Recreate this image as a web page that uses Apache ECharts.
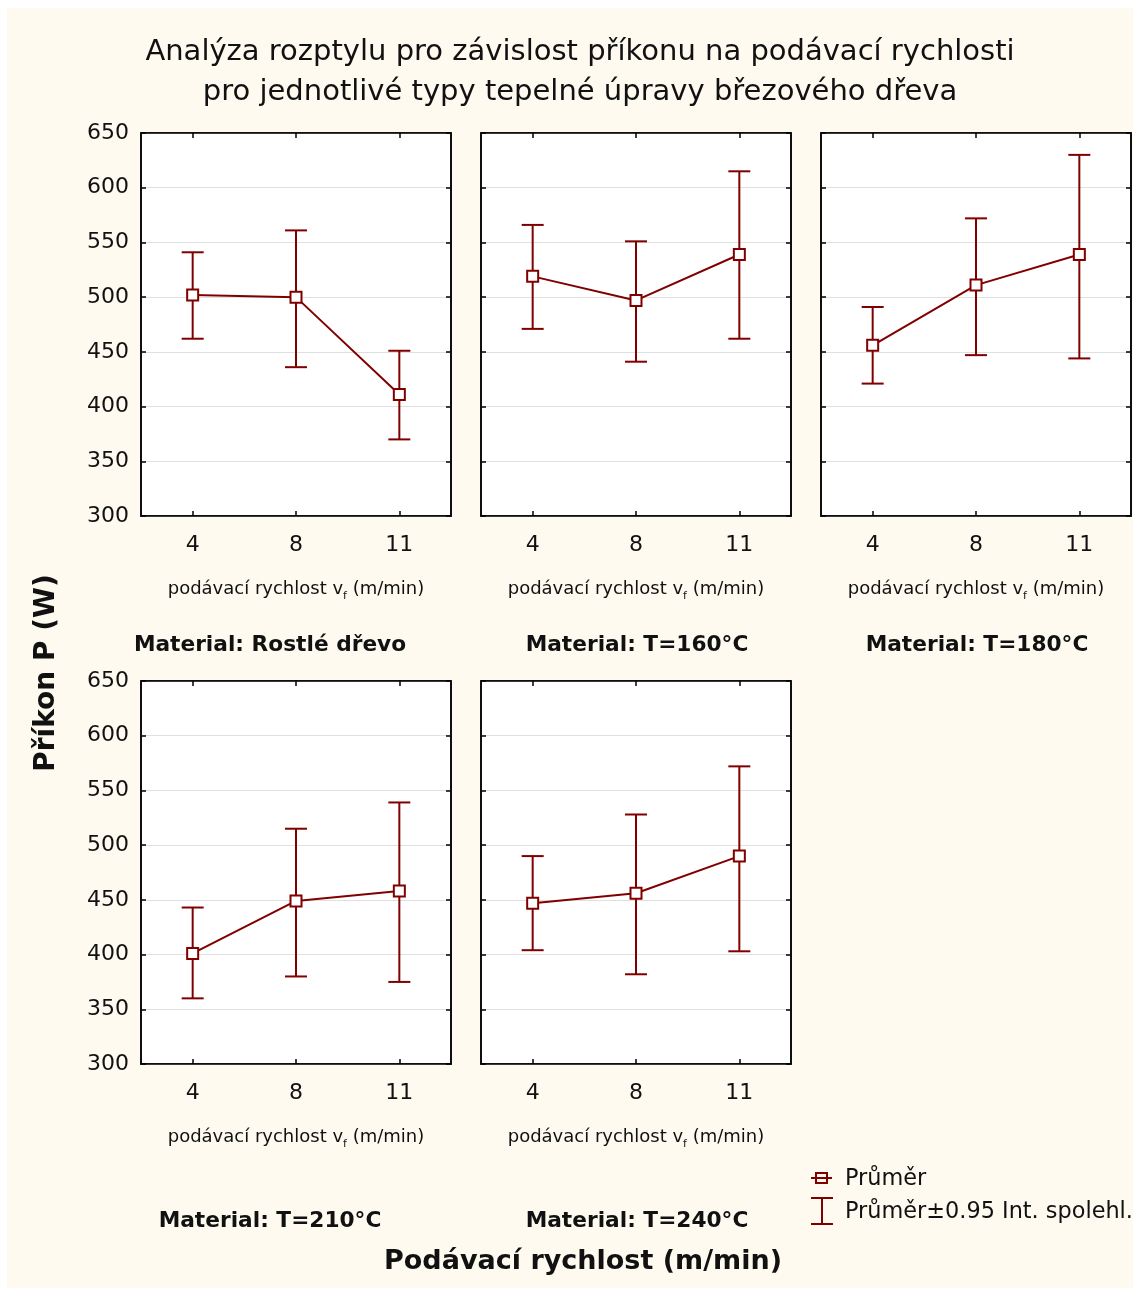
<!DOCTYPE html>
<html>
<head>
<meta charset="utf-8">
<script src="https://cdn.jsdelivr.net/npm/echarts@6/dist/echarts.min.js"></script>
<style>
html,body{margin:0;padding:0;background:#ffffff;}
#chart{width:1133px;height:1294px;}
</style>
</head>
<body>
<div id="chart"></div>
<script>
// ---- data ----
var categories = ['4', '8', '11'];
var yTicks = [300, 350, 400, 450, 500, 550, 600, 650];
var panelNames = ['Material: Rostlé dřevo', 'Material: T=160°C', 'Material: T=180°C', 'Material: T=210°C', 'Material: T=240°C'];

var meanRostle = [502, 500, 411];
var lowRostle  = [462, 436, 370];
var highRostle = [541, 561, 451];

var mean160 = [519, 497, 539];
var low160  = [471, 441, 462];
var high160 = [566, 551, 615];

var mean180 = [456, 511, 539];
var low180  = [421, 447, 444];
var high180 = [491, 572, 630];

var mean210 = [401, 449, 458];
var low210  = [360, 380, 375];
var high210 = [443, 515, 539];

var mean240 = [447, 456, 490];
var low240  = [404, 382, 403];
var high240 = [490, 528, 572];

var titleLines = ['Analýza rozptylu pro závislost příkonu na podávací rychlosti',
                  'pro jednotlivé typy tepelné úpravy březového dřeva'];
var yTitle = 'Příkon P (W)';
var xTitle = 'Podávací rychlost (m/min)';
var legendMean = 'Průměr';
var legendCI = 'Průměr±0.95 Int. spolehl.';

// ---- build ----
var means = [meanRostle, mean160, mean180, mean210, mean240];
var lows = [lowRostle, low160, low180, low210, low240];
var highs = [highRostle, high160, high180, high210, high240];

var FONT = '"DejaVu Sans", Verdana, sans-serif';
var RED = '#800000';
var panelLeft = [141, 481, 821, 141, 481];
var panelTop = [133, 133, 133, 681, 681];
var PW = 310, PH = 383;
var titleCenter = [270, 637, 977, 270, 637];

var grids = [], xAxes = [], yAxes = [], series = [], titles = [];

titles.push({
  text: titleLines.join('\n'), padding: 0,
  left: 580, top: 32, textAlign: 'center',
  textStyle: {fontFamily: FONT, fontSize: 29, fontWeight: 'normal', color: '#111', lineHeight: 40}
});

for (var i = 0; i < 5; i++) {
  var showY = (i === 0 || i === 3);
  grids.push({left: panelLeft[i], top: panelTop[i], width: PW, height: PH,
    show: true, backgroundColor: '#ffffff', borderColor: '#000', borderWidth: 1.5});
  xAxes.push({
    gridIndex: i, type: 'category', data: categories, position: 'bottom', boundaryGap: true,
    axisLine: {show: true, lineStyle: {color: '#000', width: 1.5}},
    axisTick: {show: true, inside: true, length: 5, alignWithLabel: true, lineStyle: {color: '#000', width: 1.5}},
    axisLabel: {show: true, margin: 18, fontFamily: FONT, fontSize: 22, color: '#111'},
    name: '{a|podávací rychlost v}{s|f}{a| (m/min)}',
    nameLocation: 'middle', nameGap: 64,
    nameTextStyle: {rich: {a: {fontFamily: FONT, fontSize: 18, color: '#111', lineHeight: 22, verticalAlign: 'top'},
                           s: {fontFamily: FONT, fontSize: 11, color: '#111', lineHeight: 6, verticalAlign: 'bottom'}}},
    splitLine: {show: false}
  });
  xAxes.push({
    gridIndex: i, type: 'category', data: categories, position: 'top', boundaryGap: true,
    axisLine: {show: true, lineStyle: {color: '#000', width: 1.5}},
    axisTick: {show: true, inside: true, length: 5, alignWithLabel: true, lineStyle: {color: '#000', width: 1.5}},
    axisLabel: {show: false}, splitLine: {show: false}
  });
  yAxes.push({
    gridIndex: i, type: 'value', min: yTicks[0], max: yTicks[yTicks.length - 1], interval: 50, position: 'left',
    axisLine: {show: true, lineStyle: {color: '#000', width: 1.5}},
    axisTick: {show: true, inside: true, length: 5, lineStyle: {color: '#000', width: 1.5}},
    axisLabel: {show: showY, margin: 12, fontFamily: FONT, fontSize: 22, color: '#111'},
    splitLine: {show: true, lineStyle: {color: '#e0e0e0', width: 1}}
  });
  yAxes.push({
    gridIndex: i, type: 'value', min: yTicks[0], max: yTicks[yTicks.length - 1], interval: 50, position: 'right',
    axisLine: {show: true, lineStyle: {color: '#000', width: 1.5}},
    axisTick: {show: true, inside: true, length: 5, lineStyle: {color: '#000', width: 1.5}},
    axisLabel: {show: false}, splitLine: {show: false}
  });

  var errData = [];
  for (var k = 0; k < categories.length; k++) errData.push([k, lows[i][k], highs[i][k]]);

  series.push({
    type: 'custom', name: legendCI, xAxisIndex: 2 * i, yAxisIndex: 2 * i, z: 2,
    data: errData,
    renderItem: function (params, api) {
      var lo = api.coord([api.value(0), api.value(1)]);
      var hi = api.coord([api.value(0), api.value(2)]);
      var hw = 11;
      var st = {stroke: RED, lineWidth: 2, fill: null};
      return {type: 'group', children: [
        {type: 'line', shape: {x1: lo[0], y1: lo[1], x2: hi[0], y2: hi[1]}, style: st},
        {type: 'line', shape: {x1: lo[0] - hw, y1: lo[1], x2: lo[0] + hw, y2: lo[1]}, style: st},
        {type: 'line', shape: {x1: hi[0] - hw, y1: hi[1], x2: hi[0] + hw, y2: hi[1]}, style: st}
      ]};
    }
  });
  series.push({
    type: 'line', name: legendMean, xAxisIndex: 2 * i, yAxisIndex: 2 * i, z: 3,
    data: means[i], symbol: 'rect', symbolSize: 11, showAllSymbol: true,
    lineStyle: {color: RED, width: 2},
    itemStyle: {color: '#ffffff', borderColor: RED, borderWidth: 2},
    emphasis: {disabled: true}, animation: false
  });

  titles.push({
    text: panelNames[i], padding: 0, left: titleCenter[i], top: i < 3 ? 634 : 1210, textAlign: 'center',
    textStyle: {fontFamily: FONT, fontSize: 21.7, fontWeight: 'bold', color: '#111'}
  });
}

titles.push({
  text: xTitle, padding: 0, left: 583, top: 1248, textAlign: 'center',
  textStyle: {fontFamily: FONT, fontSize: 27, fontWeight: 'bold', color: '#111'}
});

var graphics = [
  {type: 'rect', z: -100, silent: true, shape: {x: 7, y: 8, width: 1126, height: 1280}, style: {fill: '#fefaf0'}},
  {type: 'text', x: 47, y: 673, rotation: Math.PI / 2, z: 10,
   style: {text: yTitle, fontFamily: FONT, fontSize: 28, fontWeight: 'bold', fill: '#111', align: 'center', verticalAlign: 'middle'}},
  // legend: mean
  {type: 'line', z: 10, shape: {x1: 811, y1: 1178, x2: 832, y2: 1178}, style: {stroke: RED, lineWidth: 2}},
  {type: 'rect', z: 10, shape: {x: 816, y: 1173, width: 11, height: 10}, style: {stroke: RED, lineWidth: 2, fill: null}},
  {type: 'text', z: 10, x: 845, y: 1179, style: {text: legendMean, fontFamily: FONT, fontSize: 22.4, fill: '#111', verticalAlign: 'middle'}},
  // legend: CI
  {type: 'line', z: 10, shape: {x1: 822, y1: 1198, x2: 822, y2: 1224}, style: {stroke: RED, lineWidth: 2}},
  {type: 'line', z: 10, shape: {x1: 811, y1: 1198, x2: 833, y2: 1198}, style: {stroke: RED, lineWidth: 2}},
  {type: 'line', z: 10, shape: {x1: 811, y1: 1224, x2: 833, y2: 1224}, style: {stroke: RED, lineWidth: 2}},
  {type: 'text', z: 10, x: 845, y: 1212, style: {text: legendCI, fontFamily: FONT, fontSize: 22.4, fill: '#111', verticalAlign: 'middle'}}
];

var chart = echarts.init(document.getElementById('chart'), null, {renderer: 'canvas'});
chart.setOption({
  backgroundColor: '#ffffff',
  animation: false,
  title: titles,
  grid: grids,
  xAxis: xAxes,
  yAxis: yAxes,
  series: series,
  graphic: graphics
});
</script>
</body>
</html>
